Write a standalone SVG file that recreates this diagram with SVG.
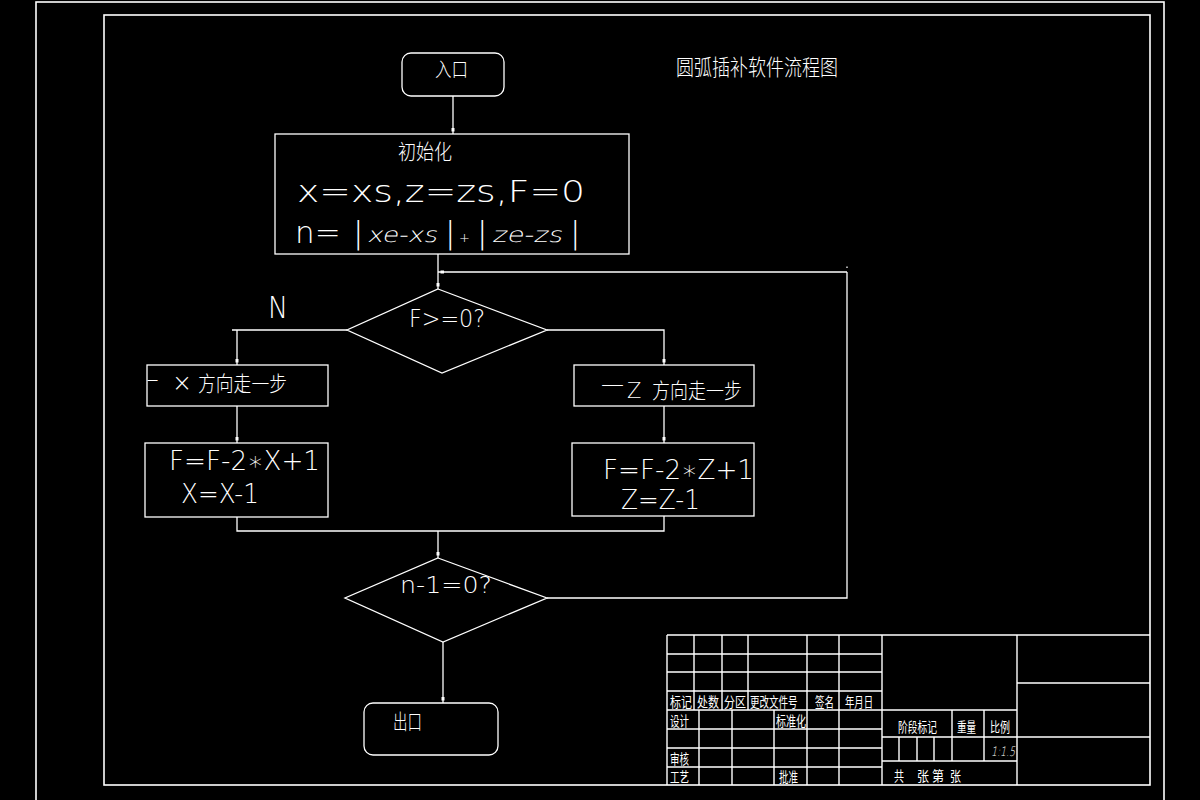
<svg xmlns="http://www.w3.org/2000/svg" width="1200" height="800" viewBox="0 0 1200 800">
<defs>
<style>
.ln{fill:none;stroke:#fff;stroke-width:1.3}
.fr{fill:none;stroke:#fff;stroke-width:1.6}
.tb{fill:none;stroke:#fff;stroke-width:1.4}
.lat{fill:#fff;font-family:"DejaVu Sans","Liberation Sans",sans-serif;font-weight:200}
.cjk{fill:#fff;font-family:"Noto Sans CJK SC","Noto Sans",sans-serif;font-weight:300}
.tbt{fill:#fff;font-family:"Noto Sans CJK SC","Noto Sans",sans-serif;font-size:14px;font-weight:400}
</style>
<marker id="a" markerUnits="userSpaceOnUse" markerWidth="8" markerHeight="4" viewBox="0 0 8 4" refX="8" refY="2" orient="auto">
<rect x="2" y="0.5" width="3.5" height="3" fill="#fff"/>
</marker>
</defs>
<rect width="1200" height="800" fill="#000"/>
<g id="frame">
<rect class="fr" x="36" y="2" width="1128" height="800"/>
<rect class="fr" x="104" y="15" width="1046" height="770"/>
</g>
<text class="cjk" x="676" y="75" font-size="22" textLength="162" lengthAdjust="spacingAndGlyphs">圆弧插补软件流程图</text>

<g id="connectors">
<path class="ln" d="M453 96 V134" marker-end="url(#a)"/>
<path class="ln" d="M438 254 V289" marker-end="url(#a)"/>
<path class="ln" d="M347 330 H232 M237 330 V365" marker-end="url(#a)"/>
<path class="ln" d="M547 330 H664 V365" marker-end="url(#a)"/>
<path class="ln" d="M237 406 V443" marker-end="url(#a)"/>
<path class="ln" d="M664 406 V443" marker-end="url(#a)"/>
<path class="ln" d="M237 517 V531 H664 V516"/>
<path class="ln" d="M438 531 V558" marker-end="url(#a)"/>
<path class="ln" d="M443 642 V703" marker-end="url(#a)"/>
<path class="ln" d="M547 598 H847 V272"/>
<path class="ln" d="M847 272 H438" marker-end="url(#a)"/>
<path class="ln" d="M847 266.5 V268"/>
<text class="lat" x="268" y="318" font-size="30" textLength="20" lengthAdjust="spacingAndGlyphs">N</text>
</g>

<g id="entry">
<rect class="ln" x="402" y="53" width="102" height="43" rx="9"/>
<text class="cjk" x="435" y="77" font-size="20" textLength="33" lengthAdjust="spacingAndGlyphs">入口</text>
</g>

<g id="init">
<rect class="ln" x="275" y="134" width="354" height="120"/>
<text class="cjk" x="398" y="159" font-size="21" textLength="54" lengthAdjust="spacingAndGlyphs">初始化</text>
<text class="lat" x="297" y="202" font-size="31" textLength="288" lengthAdjust="spacingAndGlyphs">x=xs,z=zs,F=0</text>
<text class="lat" y="243" font-size="31"><tspan x="295">n=</tspan><tspan x="353">|</tspan></text>
<g transform="translate(367,242) skewX(-12)"><text class="lat" x="0" y="0" font-size="21" textLength="70" lengthAdjust="spacingAndGlyphs">xe-xs</text></g>
<text class="lat" y="243" font-size="31"><tspan x="445">|</tspan><tspan x="477">|</tspan><tspan x="570">|</tspan></text>
<text class="lat" x="459" y="242" font-size="13">+</text>
<g transform="translate(492,242) skewX(-12)"><text class="lat" x="0" y="0" font-size="21" textLength="70" lengthAdjust="spacingAndGlyphs">ze-zs</text></g>
</g>

<g id="cond1">
<polygon class="ln" points="438,289 547,330 442,373 347,330"/>
<text class="lat" x="409" y="327" font-size="25" textLength="76" lengthAdjust="spacingAndGlyphs">F&gt;=0?</text>
</g>

<g id="stepX">
<rect class="ln" x="147" y="365" width="181" height="41"/>
<text class="cjk" x="147" y="388" font-size="21" textLength="11" lengthAdjust="spacingAndGlyphs">一</text>
<text class="lat" x="172" y="391" font-size="24">×</text>
<text class="cjk" x="198" y="391" font-size="21" textLength="89" lengthAdjust="spacingAndGlyphs">方向走一步</text>
</g>

<g id="stepZ">
<rect class="ln" x="574" y="365" width="180" height="41"/>
<text class="lat" x="601" y="392" font-size="24" textLength="23" lengthAdjust="spacingAndGlyphs">—</text>
<text class="lat" x="627" y="398" font-size="21">Z</text>
<text class="cjk" x="652" y="398" font-size="21" textLength="90" lengthAdjust="spacingAndGlyphs">方向走一步</text>
</g>

<g id="updX">
<rect class="ln" x="145" y="443" width="183" height="74"/>
<text class="lat" x="169" y="470" font-size="26" textLength="151" lengthAdjust="spacingAndGlyphs">F=F-2∗X+1</text>
<text class="lat" x="181" y="503" font-size="26" textLength="78" lengthAdjust="spacingAndGlyphs">X=X-1</text>
</g>

<g id="updZ">
<rect class="ln" x="572" y="443" width="182" height="73"/>
<text class="lat" x="603" y="479" font-size="26" textLength="151" lengthAdjust="spacingAndGlyphs">F=F-2∗Z+1</text>
<text class="lat" x="621" y="509" font-size="26" textLength="79" lengthAdjust="spacingAndGlyphs">Z=Z-1</text>
</g>

<g id="cond2">
<polygon class="ln" points="438,558 547,598 443,642 345,598"/>
<text class="lat" x="400" y="593" font-size="23" textLength="92" lengthAdjust="spacingAndGlyphs">n-1=0?</text>
</g>

<g id="exit">
<rect class="ln" x="364" y="703" width="134" height="52" rx="9"/>
<text class="cjk" x="393" y="729" font-size="21" textLength="29" lengthAdjust="spacingAndGlyphs">出口</text>
</g>

<g id="titleblock">
<path class="tb" d="M667 635 H1150 M667 635 V785 M882 635 V785 M1017 635 V785
M667 654 H882 M667 672 H882 M667 691 H882 M667 710 H1017 M667 729 H882 M667 748 H882 M667 767 H882
M1017 683 H1150 M882 737 H1150 M882 761 H1017
M694 635 V710 M722 635 V710 M748 635 V710 M807 635 V785 M839 635 V785
M699 710 V785 M732 710 V785 M774 710 V785
M952 710 V761 M984 710 V761 M899 737 V761 M917 737 V761 M934 737 V761"/>
<text class="tbt" x="670" y="707" textLength="22" lengthAdjust="spacingAndGlyphs">标记</text>
<text class="tbt" x="697" y="707" textLength="22" lengthAdjust="spacingAndGlyphs">处数</text>
<text class="tbt" x="724" y="707" textLength="22" lengthAdjust="spacingAndGlyphs">分区</text>
<text class="tbt" transform="translate(750,707) scale(0.68,1)">更改文件号</text>
<text class="tbt" x="815" y="707" textLength="19" lengthAdjust="spacingAndGlyphs">签名</text>
<text class="tbt" x="845" y="707" textLength="28" lengthAdjust="spacingAndGlyphs">年月日</text>
<text class="tbt" x="670" y="726" textLength="19" lengthAdjust="spacingAndGlyphs">设计</text>
<text class="tbt" x="776" y="726" textLength="30" lengthAdjust="spacingAndGlyphs">标准化</text>
<text class="tbt" x="670" y="764" textLength="19" lengthAdjust="spacingAndGlyphs">审核</text>
<text class="tbt" x="670" y="782" textLength="19" lengthAdjust="spacingAndGlyphs">工艺</text>
<text class="tbt" x="779" y="782" textLength="19" lengthAdjust="spacingAndGlyphs">批准</text>
<text class="tbt" x="898" y="732" textLength="39" lengthAdjust="spacingAndGlyphs">阶段标记</text>
<text class="tbt" x="957" y="732" textLength="19" lengthAdjust="spacingAndGlyphs">重量</text>
<text class="tbt" x="990" y="732" textLength="20" lengthAdjust="spacingAndGlyphs">比例</text>
<g transform="translate(991,756) skewX(-12)"><text class="lat" x="0" y="0" font-size="13" textLength="24" lengthAdjust="spacingAndGlyphs">1:1.5</text></g>
<text class="tbt" x="894" y="781" textLength="10" lengthAdjust="spacingAndGlyphs">共</text>
<text class="tbt" x="917" y="781" textLength="12" lengthAdjust="spacingAndGlyphs">张</text>
<text class="tbt" x="932" y="781" textLength="12" lengthAdjust="spacingAndGlyphs">第</text>
<text class="tbt" x="950" y="781" textLength="11" lengthAdjust="spacingAndGlyphs">张</text>
</g>
</svg>
